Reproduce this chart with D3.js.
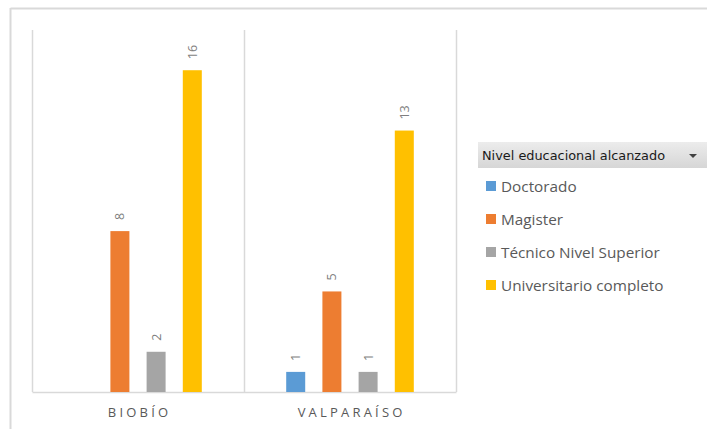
<!DOCTYPE html>
<html>
<head>
<meta charset="utf-8">
<script src="https://cdn.jsdelivr.net/npm/d3@7"></script>
<style>
  html, body { margin: 0; padding: 0; background: #fff; }
  svg { display: block; }
</style>
</head>
<body>
<svg id="chart" width="707" height="429"></svg>
<script>
// Regions and education levels
const regions = ["BIOBÍO", "VALPARAÍSO"];
const levels = ["Doctorado", "Magister", "Técnico Nivel Superior", "Universitario completo"];
const levelColors = ["#5B9BD5", "#ED7D31", "#A5A5A5", "#FFC000"];

// Counts per level, one array per region (null = no entry)
const biobioValues = [null, 8, 2, 16];
const valparaisoValues = [1, 5, 1, 13];
const regionValues = [biobioValues, valparaisoValues];

const legendTitle = "Nivel educacional alcanzado";
const yMax = 18;

const svg = d3.select("#chart");
const W = 707, H = 429;

// Chart frame (only top and left edges visible)
svg.append("line").attr("x1", 10.5).attr("x2", W).attr("y1", 8.5).attr("y2", 8.5)
  .attr("stroke", "#d9d9d9").attr("stroke-width", 2);
svg.append("line").attr("x1", 10.5).attr("x2", 10.5).attr("y1", 8).attr("y2", H)
  .attr("stroke", "#d9d9d9").attr("stroke-width", 2);

const plot = { left: 32, right: 456, top: 30, bottom: 392 };

const x0 = d3.scaleBand().domain(regions).range([plot.left, plot.right]).padding(0);
const x1 = d3.scaleBand().domain(levels).range([0, x0.bandwidth()])
  .paddingInner(0.475).paddingOuter(1.166);
const y = d3.scaleLinear().domain([0, yMax]).range([plot.bottom, plot.top]);

// Vertical separators between regions
const seps = [plot.left, ...regions.map(r => x0(r) + x0.bandwidth())];
svg.append("g").selectAll("line").data(seps).join("line")
  .attr("x1", d => Math.round(d) + 0.5).attr("x2", d => Math.round(d) + 0.5)
  .attr("y1", plot.top).attr("y2", plot.bottom)
  .attr("stroke", "#d9d9d9").attr("stroke-width", 1.5);

// Category axis
const xAxis = svg.append("g").attr("transform", `translate(0,${plot.bottom})`)
  .call(d3.axisBottom(x0).tickSize(0).tickPadding(16));
xAxis.select(".domain").attr("stroke", "#d9d9d9").attr("stroke-width", 1.5);
xAxis.selectAll("text")
  .attr("font-family", "'Open Sans', 'Noto Sans', sans-serif")
  .attr("font-size", 13).attr("fill", "#595959")
  .attr("letter-spacing", "3.2px")
  .attr("dx", "1.6px");

// Bars
const groups = svg.append("g").selectAll("g").data(regions).join("g")
  .attr("transform", r => `translate(${x0(r)},0)`);

const cells = groups.selectAll("g.cell")
  .data((r, i) => levels.map((l, j) => ({ level: l, value: regionValues[i][j], color: levelColors[j] }))
    .filter(d => d.value !== null))
  .join("g").attr("class", "cell");

cells.append("rect")
  .attr("x", d => x1(d.level))
  .attr("width", x1.bandwidth())
  .attr("y", d => y(d.value))
  .attr("height", d => y(0) - y(d.value))
  .attr("fill", d => d.color);

// Value labels, rotated above each bar
cells.append("text")
  .attr("transform", d => `translate(${x1(d.level) + x1.bandwidth() / 2 + 4.5},${y(d.value) - 11}) rotate(-90)`)
  .attr("font-family", "'Open Sans', 'Noto Sans', sans-serif")
  .attr("font-size", 12.5).attr("fill", "#7f7f7f")
  .text(d => d.value);

// Legend
const legend = svg.append("g");
const grad = svg.append("defs").append("linearGradient").attr("id", "hdr")
  .attr("x1", 0).attr("x2", 0).attr("y1", 0).attr("y2", 1);
grad.append("stop").attr("offset", 0).attr("stop-color", "#ececec");
grad.append("stop").attr("offset", 1).attr("stop-color", "#d6d6d6");

legend.append("rect").attr("x", 478).attr("y", 142).attr("width", W - 478).attr("height", 26)
  .attr("fill", "url(#hdr)");
legend.append("text").attr("x", 482).attr("y", 160)
  .attr("font-family", "'DejaVu Sans', sans-serif").attr("font-size", 13)
  .attr("textLength", 183).attr("lengthAdjust", "spacingAndGlyphs")
  .attr("fill", "#1a1a1a").text(legendTitle);
legend.append("path").attr("d", "M689,154 L697,154 L693,158 Z").attr("fill", "#404040");

const items = legend.selectAll("g.item").data(levels).join("g").attr("class", "item")
  .attr("transform", (d, i) => `translate(486,${186 + i * 33})`);
items.append("rect").attr("x", 0).attr("y", -5).attr("width", 10).attr("height", 10)
  .attr("fill", (d, i) => levelColors[i]);
items.append("text").attr("x", 15).attr("y", 5.5)
  .attr("font-family", "'Open Sans', 'Noto Sans', sans-serif").attr("font-size", 15.3)
  .attr("fill", "#595959").text(d => d);
</script>
</body>
</html>
